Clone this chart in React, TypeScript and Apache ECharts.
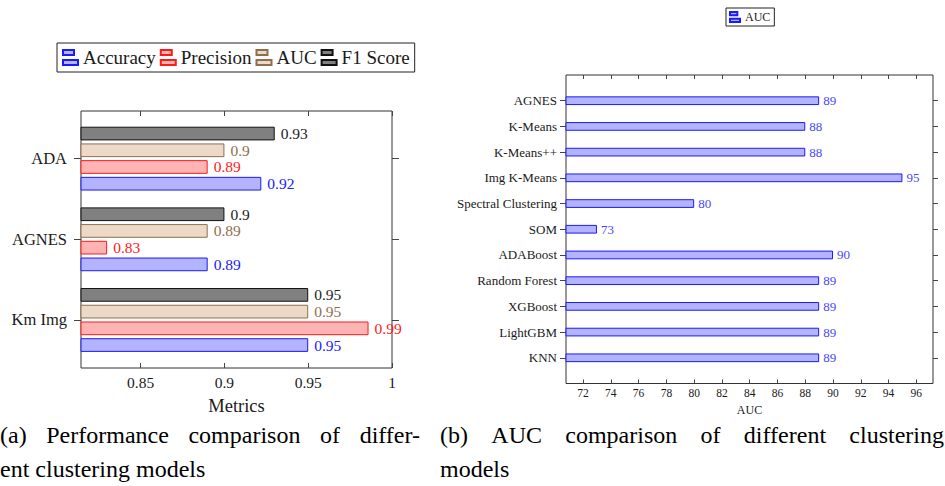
import React, { useEffect, useRef } from 'react';
import * as echarts from 'echarts';

const FONT = '"Liberation Serif", "DejaVu Serif", serif';

// ---- (a) Performance comparison ----
const perfCategories = ['ADA', 'AGNES', 'Km Img'];
const accuracy = [0.922, 0.89, 0.95];
const precision = [0.89, 0.83, 0.986];
const aucA = [0.9, 0.89, 0.95];
const f1Score = [0.93, 0.9, 0.95];
const perfTicks = [0.85, 0.9, 0.95, 1];
const perfMin = 0.8144;
const perfMax = 1.0;

// ---- (b) AUC comparison ----
const aucCategories = ['AGNES', 'K-Means', 'K-Means++', 'Img K-Means', 'Spectral Clustering', 'SOM', 'ADABoost', 'Random Forest', 'XGBoost', 'LightGBM', 'KNN'];
const aucValues = [89, 88, 88, 95, 80, 73, 90, 89, 89, 89, 89];
const aucTicks = [72, 74, 76, 78, 80, 82, 84, 86, 88, 90, 92, 94, 96];
const aucMin = 70.77;
const aucMax = 97.2;

const captionA1 = ['(a)', 'Performance', 'comparison', 'of', 'differ-'];
const captionA2 = 'ent clustering models';
const captionB1 = ['(b)', 'AUC', 'comparison', 'of', 'different', 'clustering'];
const captionB2 = 'models';

const LEG_ICON = 'path://M0,0H11V5H0Z M0,10H15V15H0Z';

function measure(text: string, font: string): number {
  const ctx = document.createElement('canvas').getContext('2d');
  if (!ctx) return text.length * 10;
  ctx.font = font;
  return ctx.measureText(text).width;
}

function justified(words: string[], x0: number, x1: number, y: number, font: string) {
  const widths = words.map((w) => measure(w, font));
  const total = widths.reduce((a, b) => a + b, 0);
  const gap = (x1 - x0 - total) / (words.length - 1);
  let x = x0;
  return words.map((w, i) => {
    const el = { type: 'text', x, y, style: { text: w, font, fill: '#000', verticalAlign: 'middle' } };
    x += widths[i] + gap;
    return el;
  });
}

export default function App() {
  const ref = useRef<HTMLDivElement>(null);
  useEffect(() => {
    document.body.style.margin = '0';
    if (!ref.current) return;
    const chart = echarts.init(ref.current, null, { renderer: 'svg' });

    const fmt2 = (p: any) => String(+(+p.value).toFixed(2));
    const padCats = ['', ...aucCategories, ''];
    const padVals: any[] = ['-', ...aucValues, '-'];
    const realIdx = (i: number) => i > 0 && i < padCats.length - 1;

    const perfBar = (name: string, data: number[], fill: string, stroke: string, txt: string) => ({
      type: 'bar', name, data, xAxisIndex: 2, yAxisIndex: 1,
      barWidth: 13.7, barGap: '22%',
      itemStyle: { color: fill, borderColor: stroke, borderWidth: 1 },
      label: { show: true, position: 'right', distance: 6, color: txt, fontFamily: FONT, fontSize: 15.5, formatter: fmt2 },
    });

    const axisTxt = { fontFamily: FONT, color: '#1a1a1a' };
    const capFont = `24px ${FONT}`;

    chart.setOption({
      animation: false,
      backgroundColor: '#ffffff',
      textStyle: { fontFamily: FONT },
      legend: [
        {
          data: ['Accuracy', 'Precision', 'AUC', 'F1 Score'],
          left: 57, top: 43, orient: 'horizontal',
          borderColor: '#222', borderWidth: 1, padding: [5, 5, 5, 5],
          itemWidth: 15, itemHeight: 15, itemGap: 4,
          icon: LEG_ICON, selectedMode: false,
          textStyle: { ...axisTxt, fontSize: 19 },
        },
        {
          data: ['AUC (b)'], formatter: () => 'AUC',
          left: 726, top: 8, orient: 'horizontal',
          borderColor: '#222', borderWidth: 1, padding: [3, 4, 3, 3],
          itemWidth: 10, itemHeight: 10, itemGap: 4,
          icon: LEG_ICON, selectedMode: false,
          textStyle: { ...axisTxt, fontSize: 12 },
        },
      ],
      grid: [
        { left: 81, top: 111, width: 311, height: 257, show: true, borderColor: '#333', borderWidth: 1, backgroundColor: 'transparent', outerBoundsMode: 'none' },
        { left: 81, top: 118.3, width: 311, height: 242, show: false, outerBoundsMode: 'none' },
        { left: 566, top: 75, width: 367, height: 308.5, show: true, borderColor: '#333', borderWidth: 1, backgroundColor: 'transparent', outerBoundsMode: 'none' },
      ],
      xAxis: [
        {
          gridIndex: 0, type: 'value', min: perfMin, max: perfMax, position: 'bottom',
          axisLine: { show: false }, splitLine: { show: false },
          axisTick: { show: true, inside: true, length: 5, customValues: perfTicks, lineStyle: { color: '#444' } },
          axisLabel: { show: true, customValues: perfTicks, margin: 6, fontSize: 15.5, ...axisTxt },
          name: 'Metrics', nameLocation: 'middle', nameGap: 28,
          nameTextStyle: { ...axisTxt, fontSize: 18.5 },
        },
        {
          gridIndex: 0, type: 'value', min: perfMin, max: perfMax, position: 'top',
          axisLine: { show: false }, splitLine: { show: false },
          axisTick: { show: true, inside: true, length: 5, customValues: perfTicks, lineStyle: { color: '#444' } },
          axisLabel: { show: false },
        },
        { gridIndex: 1, type: 'value', min: perfMin, max: perfMax, show: false },
        {
          gridIndex: 2, type: 'value', min: aucMin, max: aucMax, position: 'bottom',
          axisLine: { show: false }, splitLine: { show: false },
          axisTick: { show: true, inside: true, length: 4, customValues: aucTicks, lineStyle: { color: '#444' } },
          axisLabel: { show: true, customValues: aucTicks, margin: 3, fontSize: 11.5, ...axisTxt },
          name: 'AUC', nameLocation: 'middle', nameGap: 20,
          nameTextStyle: { ...axisTxt, fontSize: 12 },
        },
        {
          gridIndex: 2, type: 'value', min: aucMin, max: aucMax, position: 'top',
          axisLine: { show: false }, splitLine: { show: false },
          axisTick: { show: true, inside: true, length: 4, customValues: aucTicks, lineStyle: { color: '#444' } },
          axisLabel: { show: false },
        },
      ],
      yAxis: [
        { gridIndex: 0, type: 'value', show: false },
        {
          gridIndex: 1, type: 'category', data: perfCategories, inverse: true, position: 'left',
          axisLine: { show: false },
          axisTick: { show: true, alignWithLabel: true, inside: false, length: 7, lineStyle: { color: '#444' } },
          axisLabel: { show: true, margin: 14, fontSize: 16.5, ...axisTxt },
        },
        {
          gridIndex: 1, type: 'category', data: perfCategories, inverse: true, position: 'right',
          axisLine: { show: false },
          axisTick: { show: true, alignWithLabel: true, inside: false, length: 7, lineStyle: { color: '#444' } },
          axisLabel: { show: false },
        },
        {
          gridIndex: 2, type: 'category', data: padCats, inverse: true, boundaryGap: false, position: 'left',
          axisLine: { show: false },
          axisTick: { show: true, inside: false, length: 6, interval: (i: number) => realIdx(i), lineStyle: { color: '#444' } },
          axisLabel: { show: true, margin: 9, fontSize: 13, interval: (i: number) => realIdx(i), ...axisTxt },
        },
        {
          gridIndex: 2, type: 'category', data: padCats, inverse: true, boundaryGap: false, position: 'right',
          axisLine: { show: false },
          axisTick: { show: true, inside: false, length: 5, interval: (i: number) => realIdx(i), lineStyle: { color: '#444' } },
          axisLabel: { show: false },
        },
      ],
      series: [
        perfBar('F1 Score', f1Score, '#808080', '#111111', '#222222'),
        perfBar('AUC', aucA, '#ecdac6', '#8f6e4e', '#8f6e4e'),
        perfBar('Precision', precision, '#ffb3b3', '#ff1a1a', '#ff2020'),
        perfBar('Accuracy', accuracy, '#b3b3ff', '#1a1aff', '#2020ff'),
        {
          type: 'bar', name: 'AUC (b)', data: padVals, xAxisIndex: 3, yAxisIndex: 3,
          barWidth: 8.7,
          itemStyle: { color: '#b3b3ff', borderColor: '#1a1aff', borderWidth: 1 },
          label: { show: true, position: 'right', distance: 4, color: '#4646ff', fontFamily: FONT, fontSize: 13 },
        },
      ],
      graphic: [
        ...justified(captionA1, 0, 420, 435, capFont),
        { type: 'text', x: 0, y: 469, style: { text: captionA2, font: capFont, fill: '#000', verticalAlign: 'middle' } },
        ...justified(captionB1, 440, 944, 435, capFont),
        { type: 'text', x: 440, y: 469, style: { text: captionB2, font: capFont, fill: '#000', verticalAlign: 'middle' } },
      ],
    });
    return () => chart.dispose();
  }, []);
  return <div ref={ref} style={{ position: 'fixed', left: 0, top: 0, width: 945, height: 486 }} />;
}
